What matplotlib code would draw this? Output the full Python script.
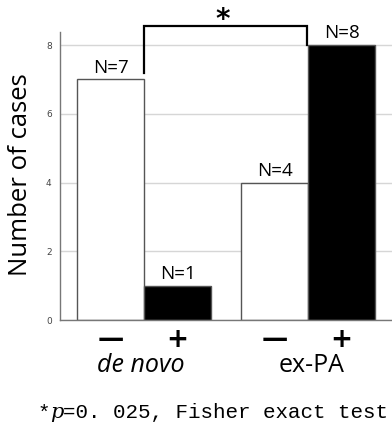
import matplotlib
matplotlib.use('Agg')
import matplotlib.pyplot as plt

# data
groups = ['de novo', 'ex-PA']
signs = ['—', '+', '—', '+']
counts = [7, 1, 4, 8]
face = ['white', 'black', 'white', 'black']
yticks = [0, 2, 4, 6, 8]
footnote_p = '0. 025, Fisher exact test'

W, H = 392, 430
fig = plt.figure(figsize=(W / 100, H / 100), dpi=100)
ax = fig.add_axes([60 / W, (H - 320) / H, (W - 60) / W, 288 / H])

xpos = [0, 1, 2.45, 3.45]
ax.bar(xpos, counts, width=1.0, color=face, edgecolor='#555555', linewidth=1.0, zorder=2)
ax.set_xlim(-0.754, 4.2)
ax.set_ylim(0, 8.38)
ax.set_yticks(yticks)
ax.set_xticks([])
ax.yaxis.grid(True, color='#d6d6d6', linewidth=1.0, zorder=0)
ax.set_axisbelow(True)
for s in ['top', 'right']:
    ax.spines[s].set_visible(False)
for s in ['left', 'bottom']:
    ax.spines[s].set_color('#777777')
    ax.spines[s].set_linewidth(1.0)
ax.tick_params(axis='y', length=0, labelsize=6.5, labelcolor='#444444', pad=6)

sans = 'Open Sans'
for x, c in zip(xpos, counts):
    ax.text(x, c + 0.08, 'N=%d' % c, ha='center', va='bottom', fontsize=13.5, family=sans)

# bracket
ax.plot([0.5, 0.5, 2.93, 2.93], [7.18, 8.55, 8.55, 8.0], color='black', lw=1.6,
        clip_on=False, zorder=3, solid_joinstyle='miter')
ax.text(1.68, 8.5, '*', ha='center', va='baseline', fontsize=20, fontweight='bold',
        family='DejaVu Sans', clip_on=False)

# x labels under bars
for x, s in zip(xpos, signs):
    ax.text(x, -0.2, s, ha='center', va='top', fontsize=19, fontweight='bold',
            family='DejaVu Sans')
ax.text(0.45, -0.95, groups[0], ha='center', va='top', fontsize=18, style='italic', family=sans)
ax.text(3.0, -0.95, groups[1], ha='center', va='top', fontsize=18, family=sans)

fig.text(21 / W, 1 - 175 / H, 'Number of cases', rotation=90, ha='center', va='center',
         fontsize=18.5, family=sans)

# footnote
mono = 'Liberation Mono'
cw = 0.6 * 15 * 100 / 72
y = 1 - 413 / H
fig.text(38 / W, y, '*', ha='left', va='center', fontsize=15, family=mono)
fig.text((38 + cw) / W, y, 'p', ha='left', va='center', fontsize=15, family='DejaVu Serif', style='italic')
fig.text((38 + 2 * cw) / W, y, '=' + footnote_p, ha='left', va='center', fontsize=15, family=mono)

fig.savefig('out.png', dpi=100)
